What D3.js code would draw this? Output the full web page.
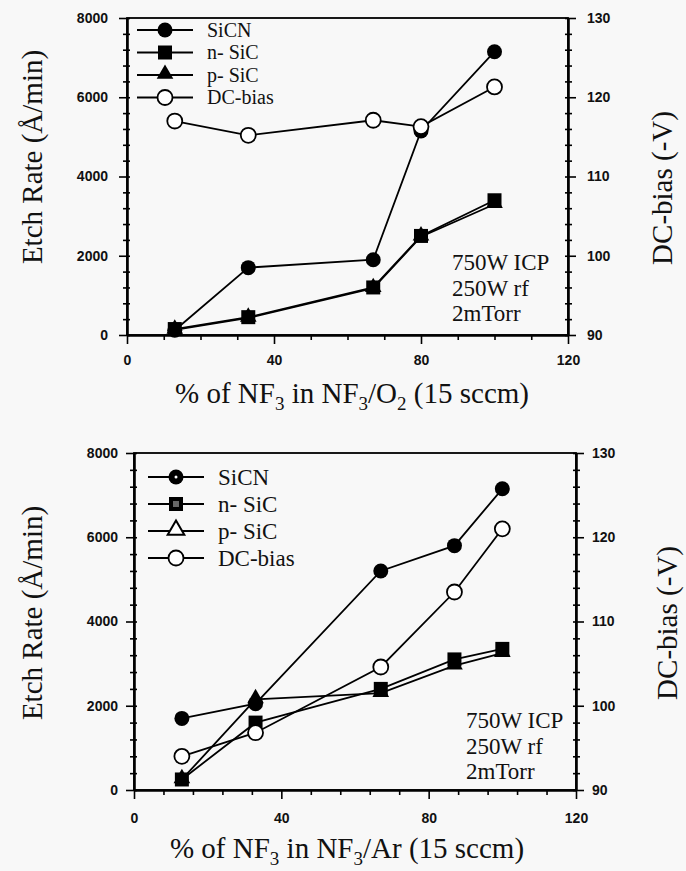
<!DOCTYPE html>
<html>
<head>
<meta charset="utf-8">
<script src="https://cdn.jsdelivr.net/npm/d3@7"></script>
<style>
  body { margin: 0; background: #f8f8f8; }
  svg { display: block; }
  .serif { font-family: "Liberation Serif", "Times New Roman", serif; fill: #111; }
  .tick text { font-family: "Liberation Sans", Arial, sans-serif; font-weight: bold; font-size: 14px; fill: #111; }
</style>
</head>
<body>
<div id="chart"></div>
<script>
// ---- data ----
const seriesNames = ["SiCN", "n- SiC", "p- SiC", "DC-bias"];
const notes = ["750W ICP", "250W rf", "2mTorr"];

const xTicks = [0, 40, 80, 120];
const rateTicks = [0, 2000, 4000, 6000, 8000];
const biasTicks = [90, 100, 110, 120, 130];

// NF3/O2 panel
const pctO2 = [13, 33, 67, 80, 100];
const sicnO2 = [120, 1700, 1900, 5150, 7150];
const nsicO2 = [150, 450, 1200, 2500, 3400];
const psicO2 = [130, 430, 1180, 2480, 3300];
const biasO2 = [117.0, 115.2, 117.1, 116.3, 121.3];

// NF3/Ar panel
const pctAr = [13, 33, 67, 87, 100];
const sicnAr = [1700, 2050, 5200, 5800, 7150];
const nsicAr = [250, 1600, 2400, 3100, 3350];
const psicAr = [250, 2150, 2300, 2950, 3250];
const biasAr = [94.0, 96.8, 104.6, 113.5, 121.0];

const WIDTH = 686;
const HEIGHT = 871;

const svg = d3.select('#chart')
              .append('svg')
              .attr('width', WIDTH)
              .attr('height', HEIGHT);

drawPanel({
    left: 127, right: 568, top: 18, bottom: 335,
    xMinor: 10,
    x: pctO2, sicn: sicnO2, nsic: nsicO2, psic: psicO2, bias: biasO2,
    gas: "O", gasSub: "2",
    titleX: 352, titleY: 403,
    leftLabel: [32, 157], rightLabel: [662, 188],
    legendY: 30, legendGap: 22.5, legendX: 137, legendOpen: false, legendFont: 20,
    noteX: 452, noteY: 270,
    xPad: 11, yPad: 11
});

drawPanel({
    left: 134, right: 576, top: 453, bottom: 790,
    xMinor: 8,
    x: pctAr, sicn: sicnAr, nsic: nsicAr, psic: psicAr, bias: biasAr,
    gas: "Ar", gasSub: "",
    titleX: 347, titleY: 858,
    leftLabel: [32, 613], rightLabel: [667, 623],
    legendY: 477, legendGap: 27, legendX: 148, legendOpen: true, legendFont: 23,
    noteX: 466, noteY: 728,
    xPad: 14, yPad: 8
});

function drawPanel(p) {
    const g = svg.append('g');

    const X_SCALE = d3.scaleLinear().domain([0, 120]).range([p.left, p.right]);
    const Y_RATE = d3.scaleLinear().domain([0, 8000]).range([p.bottom, p.top]);
    const Y_BIAS = d3.scaleLinear().domain([90, 130]).range([p.bottom, p.top]);

    const xMinors = d3.range(0, 120.001, p.xMinor).filter(v => xTicks.indexOf(v) < 0);
    const rateMinors = d3.range(0, 8000.001, 400).filter(v => rateTicks.indexOf(v) < 0);
    const biasMinors = d3.range(90, 130.001, 2).filter(v => biasTicks.indexOf(v) < 0);

    // frame
    g.append('rect')
     .attr('x', p.left).attr('y', p.top)
     .attr('width', p.right - p.left).attr('height', p.bottom - p.top)
     .attr('fill', 'none').attr('stroke', '#000').attr('stroke-width', 1.8);

    // axes: outward ticks with labels, short inward ticks crossing the line
    function axis(gen, tx, ty, ticks, size, fmt, pad) {
        const a = g.append('g')
                   .attr('transform', 'translate(' + tx + ',' + ty + ')')
                   .call(gen.tickValues(ticks).tickSize(size).tickSizeOuter(0)
                            .tickPadding(pad || 3).tickFormat(fmt));
        a.attr('font-family', null).attr('font-size', null);
        a.select('.domain').attr('stroke-width', 1.8);
        a.selectAll('line').attr('stroke-width', 1.6);
        return a;
    }
    const none = () => "";

    axis(d3.axisBottom(X_SCALE), 0, p.bottom, xTicks, 9, d3.format('d'), p.xPad);
    axis(d3.axisBottom(X_SCALE), 0, p.bottom, xMinors, 5, none);

    axis(d3.axisLeft(Y_RATE), p.left, 0, rateTicks, 8, d3.format('d'), p.yPad);
    axis(d3.axisLeft(Y_RATE), p.left, 0, rateMinors, 4, none);
    axis(d3.axisRight(Y_RATE), p.left, 0, rateTicks.concat(rateMinors), 3, none);

    axis(d3.axisRight(Y_BIAS), p.right, 0, biasTicks, 8, d3.format('d'), p.yPad);
    axis(d3.axisRight(Y_BIAS), p.right, 0, biasMinors, 4, none);
    axis(d3.axisLeft(Y_BIAS), p.right, 0, biasTicks.concat(biasMinors), 3, none);

    // series
    const series = [
        { name: seriesNames[2], vals: p.psic, y: Y_RATE, shape: 'tri' },
        { name: seriesNames[1], vals: p.nsic, y: Y_RATE, shape: 'sq' },
        { name: seriesNames[0], vals: p.sicn, y: Y_RATE, shape: 'dot' },
        { name: seriesNames[3], vals: p.bias, y: Y_BIAS, shape: 'open' }
    ];

    const line = d3.line();
    series.forEach(s => {
        const pts = s.vals.map((v, i) => [X_SCALE(p.x[i]), s.y(v)]);
        g.append('path')
         .attr('d', line(pts))
         .attr('fill', 'none').attr('stroke', '#000').attr('stroke-width', 1.8);
        pts.forEach(pt => marker(g, s.shape, pt[0], pt[1], false));
    });

    // legend
    const order = ['dot', 'sq', 'tri', 'open'];
    seriesNames.forEach((name, i) => {
        const ly = p.legendY + i * p.legendGap;
        g.append('line')
         .attr('x1', p.legendX).attr('x2', p.legendX + 56)
         .attr('y1', ly).attr('y2', ly)
         .attr('stroke', '#000').attr('stroke-width', 1.8);
        marker(g, order[i], p.legendX + 28, ly, p.legendOpen);
        g.append('text')
         .attr('class', 'serif')
         .attr('x', p.legendX + 70).attr('y', ly + p.legendFont * 0.33)
         .style('font-size', p.legendFont + 'px')
         .text(name);
    });

    // conditions
    notes.forEach((t, i) => {
        g.append('text')
         .attr('class', 'serif')
         .attr('x', p.noteX).attr('y', p.noteY + i * 25.5)
         .style('font-size', '23px')
         .text(t);
    });

    // axis titles
    g.append('text')
     .attr('class', 'serif')
     .attr('transform', 'translate(' + p.leftLabel[0] + ',' + p.leftLabel[1] + ') rotate(-90)')
     .attr('text-anchor', 'middle').attr('dominant-baseline', 'central')
     .style('font-size', '29px')
     .text('Etch Rate (Å/min)');

    g.append('text')
     .attr('class', 'serif')
     .attr('transform', 'translate(' + p.rightLabel[0] + ',' + p.rightLabel[1] + ') rotate(-90)')
     .attr('text-anchor', 'middle').attr('dominant-baseline', 'central')
     .style('font-size', '29px')
     .text('DC-bias (-V)');

    const title = g.append('text')
                   .attr('class', 'serif')
                   .attr('x', p.titleX).attr('y', p.titleY)
                   .attr('text-anchor', 'middle')
                   .style('font-size', '29px');
    const parts = [["% of NF", ""], ["3", "sub"], [" in NF", ""], ["3", "sub"], ["/" + p.gas, ""]];
    if (p.gasSub) parts.push([p.gasSub, "sub"]);
    parts.push([" (15 sccm)", ""]);
    let low = false;
    parts.forEach(part => {
        const ts = title.append('tspan').text(part[0]);
        if (part[1] === 'sub') {
            ts.style('font-size', '19px').attr('dy', low ? 0 : 7);
            low = true;
        } else {
            if (low) ts.attr('dy', -7);
            low = false;
        }
    });
}

function marker(g, shape, x, y, legendOpen) {
    if (shape === 'dot') {
        g.append('circle').attr('cx', x).attr('cy', y).attr('r', 7.5).attr('fill', '#000');
        if (legendOpen) g.append('circle').attr('cx', x).attr('cy', y).attr('r', 1.5).attr('fill', '#fff');
    } else if (shape === 'open') {
        g.append('circle').attr('cx', x).attr('cy', y).attr('r', 7.5)
         .attr('fill', '#fff').attr('stroke', '#000').attr('stroke-width', 1.8);
    } else if (shape === 'sq') {
        g.append('rect').attr('x', x - 7).attr('y', y - 7).attr('width', 14).attr('height', 14).attr('fill', '#000');
        if (legendOpen) g.append('rect').attr('x', x - 3).attr('y', y - 3).attr('width', 6).attr('height', 6).attr('fill', '#666');
    } else if (shape === 'tri') {
        const s = d3.symbol().type(d3.symbolTriangle).size(120);
        g.append('path').attr('transform', 'translate(' + x + ',' + (y - 1) + ')')
         .attr('d', s()).attr('fill', legendOpen ? '#fff' : '#000')
         .attr('stroke', '#000').attr('stroke-width', legendOpen ? 2 : 0);
    }
}
</script>
</body>
</html>
